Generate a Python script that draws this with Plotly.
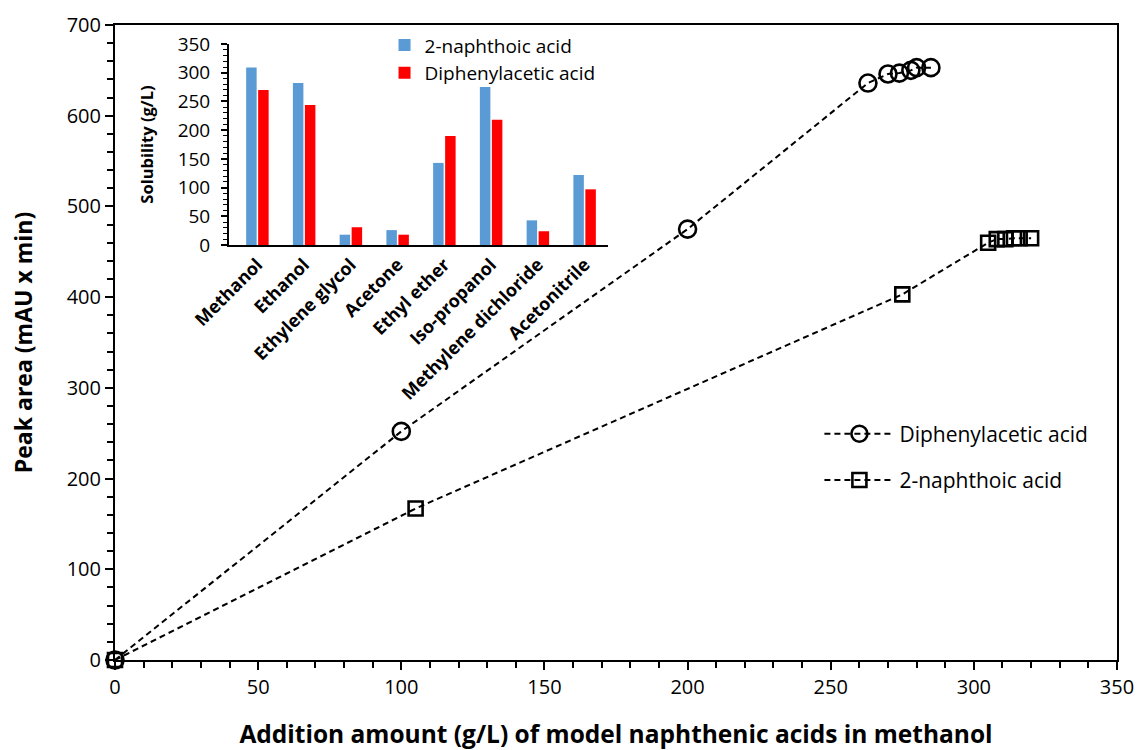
import plotly.graph_objects as go

# Calibration series: peak area vs. amount added in methanol
dpa_amount = [0, 100, 200, 263, 270, 274, 278, 280, 285]
dpa_area = [0, 252, 475, 636, 646, 647, 650, 653, 653]

nap_amount = [0, 105, 275, 305, 308, 311, 314, 316, 320]
nap_area = [0, 167, 403, 460, 464, 464, 465, 465, 465]

# Solubility of each acid in different solvents (g/L)
solvents = ["Methanol", "Ethanol", "Ethylene glycol", "Acetone", "Ethyl ether",
            "Iso-propanol", "Methylene dichloride", "Acetonitrile"]
sol_naphthoic = [309, 282, 18, 26, 143, 275, 43, 122]
sol_diphenylacetic = [270, 244, 31, 18, 190, 218, 24, 97]

FONT = "Open Sans"
BLACK = "#000000"

fig = go.Figure()

fig.add_trace(go.Scatter(
    x=dpa_amount, y=dpa_area, name="Diphenylacetic acid", mode="lines+markers",
    line=dict(color=BLACK, width=2, dash="6px,4px"),
    marker=dict(symbol="circle-open", size=17, color=BLACK, line=dict(width=2.6, color=BLACK)),
    legendgroup="dpa", legend="legend", cliponaxis=False,
))
fig.add_trace(go.Scatter(
    x=nap_amount, y=nap_area, name="2-naphthoic acid", mode="lines+markers",
    line=dict(color=BLACK, width=2, dash="6px,4px"),
    marker=dict(symbol="square-open", size=14, color=BLACK, line=dict(width=2.6, color=BLACK)),
    legendgroup="nap", legend="legend", cliponaxis=False,
))

# Inset bar chart
fig.add_trace(go.Bar(
    x=solvents, y=sol_naphthoic, name="2-naphthoic acid",
    marker=dict(color="#5B9BD5", line=dict(width=0)),
    xaxis="x2", yaxis="y2", legend="legend2",
))
fig.add_trace(go.Bar(
    x=solvents, y=sol_diphenylacetic, name="Diphenylacetic acid",
    marker=dict(color="#FF0000", line=dict(width=0)),
    xaxis="x2", yaxis="y2", legend="legend2",
))

fig.update_layout(
    width=1139, height=750,
    margin=dict(l=115, r=22, t=25, b=90),
    paper_bgcolor="white", plot_bgcolor="white",
    font=dict(family=FONT, size=20, color=BLACK),
    barmode="group", bargap=0.487, bargroupgap=0.125,
    xaxis=dict(
        range=[0, 350], dtick=50, tick0=0, automargin=False,
        showgrid=False, zeroline=False,
        showline=True, linecolor=BLACK, linewidth=2, mirror=True,
        ticks="outside", ticklen=8, tickwidth=1.5, tickcolor=BLACK,
        minor=dict(dtick=10, ticks="outside", ticklen=6, tickwidth=1.5, tickcolor=BLACK),
        tickfont=dict(size=20),
        title=dict(text="<b>Addition amount (g/L) of model naphthenic acids in methanol</b>",
                   font=dict(size=24.5), standoff=30),
    ),
    yaxis=dict(
        range=[0, 700], dtick=100, tick0=0, automargin=False,
        showgrid=False, zeroline=False,
        showline=True, linecolor=BLACK, linewidth=2, mirror=True,
        ticks="outside", ticklen=8, tickwidth=1.5, tickcolor=BLACK,
        minor=dict(dtick=20, ticks="outside", ticklen=6, tickwidth=1.5, tickcolor=BLACK),
        tickfont=dict(size=20),
        title=dict(text="<b>Peak area (mAU x min)</b>", font=dict(size=23), standoff=28),
    ),
    xaxis2=dict(
        domain=[0.1138, 0.492], anchor="y2", range=[-0.607, 7.5],
        showgrid=False, zeroline=False,
        showline=True, linecolor=BLACK, linewidth=2,
        ticks="", tickangle=-45,
        tickfont=dict(size=18, family=FONT, weight="bold"),
    ),
    yaxis2=dict(
        domain=[0.6535, 0.970], anchor="x2",
        range=[0, 350], dtick=50, tick0=0,
        showgrid=False, zeroline=False,
        showline=True, linecolor=BLACK, linewidth=2,
        ticks="outside", ticklen=6, tickwidth=1.5, tickcolor=BLACK,
        ticklabelstandoff=7,
        minor=dict(dtick=10, ticks="outside", ticklen=4, tickwidth=1.2, tickcolor=BLACK),
        tickfont=dict(size=19),
        title=dict(text="<b>Solubility (g/L)</b>", font=dict(size=16.5), standoff=20),
    ),
    legend=dict(
        x=0.703, y=0.388, xanchor="left", yanchor="top",
        bgcolor="rgba(0,0,0,0)", font=dict(size=21),
        itemwidth=70, tracegroupgap=16, traceorder="grouped",
    ),
    legend2=dict(
        x=0.269, y=0.998, xanchor="left", yanchor="top",
        bgcolor="rgba(0,0,0,0)", font=dict(size=19),
        itemwidth=30, traceorder="normal", tracegroupgap=0,
    ),
)

fig.write_html("out.html")
